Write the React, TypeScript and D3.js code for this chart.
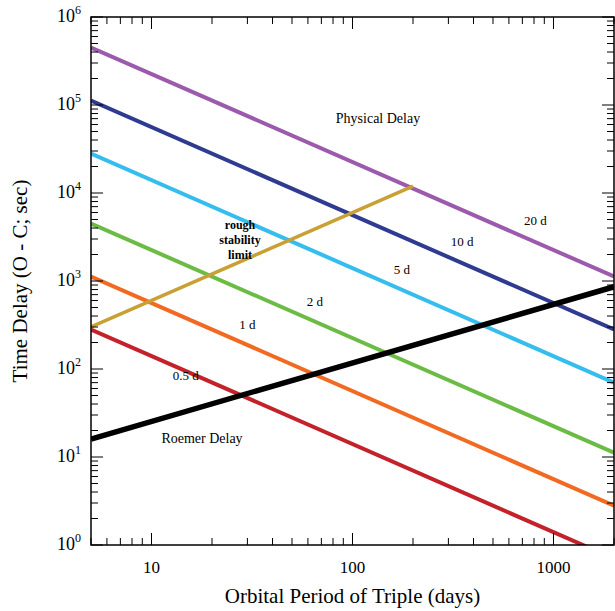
import * as d3 from 'd3';

// inner period (days) and the delay curves: [P, delay] endpoints
const innerLabels = ['20 d', '10 d', '5 d', '2 d', '1 d', '0.5 d'];
const innerColors = ['#9b5aac', '#2e3b91', '#35bdee', '#6cbb45', '#f26a22', '#c4222b'];
const startDelay = [450000, 112000, 28000, 4500, 1125, 281];
const endDelay = [1125, 281, 70, 11.2, 2.8, 0.7];
const roemer = [[5, 16], [2000, 860]];
const stability = [[5, 300], [200, 12000]];
const innerLabelPos = [[813, 4700], [351, 2700], [176, 1300], [65, 560], [30, 310], [14.8, 81]];
const xTicks = [10, 100, 1000];
const yTicks = [0, 1, 2, 3, 4, 5, 6];

const W = 615, H = 611;
const m = { l: 91, r: 614, t: 17, b: 545 };

export default function App() {
  const x = d3.scaleLog().domain([5, 2000]).range([m.l, m.r]);
  const y = d3.scaleLog().domain([1, 1e6]).range([m.b, m.t]);
  const line = d3.line<number[]>().x(d => x(d[0])).y(d => y(d[1]));
  const font = '"Liberation Serif", "Times New Roman", serif';

  const xMinor: number[] = [];
  for (let e = 0; e <= 3; e++) for (let k = 1; k <= 9; k++) {
    const v = k * 10 ** e;
    if (v >= 5 && v <= 2000) xMinor.push(v);
  }
  const yMinor: number[] = [];
  for (let e = 0; e < 6; e++) for (let k = 2; k <= 9; k++) yMinor.push(k * 10 ** e);

  return (
    <svg width={W} height={H} style={{ position: 'absolute', left: 0, top: 0 }} fontFamily={font}>
      <defs>
        <clipPath id="plot"><rect x={m.l} y={m.t} width={m.r - m.l} height={m.b - m.t} /></clipPath>
      </defs>
      <g clipPath="url(#plot)">
        {innerLabels.map((l, i) => (
          <path key={l} d={line([[5, startDelay[i]], [2000, endDelay[i]]]) || ''} stroke={innerColors[i]} strokeWidth={4} fill="none" />
        ))}
        <path d={line(stability) || ''} stroke="#c9a034" strokeWidth={3.5} fill="none" />
        <path d={line(roemer) || ''} stroke="#000" strokeWidth={5.5} fill="none" />
      </g>
      <rect x={m.l} y={m.t} width={m.r - m.l} height={m.b - m.t} fill="none" stroke="#000" strokeWidth={1.5} />
      {xMinor.map(v => {
        const major = xTicks.includes(v);
        const len = major ? 12 : 7;
        return (
          <g key={'x' + v} stroke="#000" strokeWidth={1}>
            <line x1={x(v)} x2={x(v)} y1={m.b} y2={m.b - len} />
            <line x1={x(v)} x2={x(v)} y1={m.t} y2={m.t + len} />
          </g>
        );
      })}
      {yTicks.map(e => (
        <g key={'y' + e} stroke="#000">
          <line x1={m.l} x2={m.l + 12} y1={y(10 ** e)} y2={y(10 ** e)} />
          <line x1={m.r} x2={m.r - 12} y1={y(10 ** e)} y2={y(10 ** e)} />
        </g>
      ))}
      {yMinor.map(v => (
        <g key={'ym' + v} stroke="#000">
          <line x1={m.l} x2={m.l + 7} y1={y(v)} y2={y(v)} />
          <line x1={m.r} x2={m.r - 7} y1={y(v)} y2={y(v)} />
        </g>
      ))}
      {xTicks.map(v => (
        <text key={'xl' + v} x={x(v)} y={m.b + 28} textAnchor="middle" fontSize={17}>{v}</text>
      ))}
      {yTicks.map(e => (
        <text key={'yl' + e} x={m.l - 10} y={y(10 ** e) + 5} textAnchor="end" fontSize={18}>
          10<tspan dy={-8} fontSize={12}>{e}</tspan>
        </text>
      ))}
      <text x={(m.l + m.r) / 2} y={603} textAnchor="middle" fontSize={21}>Orbital Period of Triple (days)</text>
      <text transform={`translate(27,${(m.t + m.b) / 2}) rotate(-90)`} textAnchor="middle" fontSize={21}>Time Delay (O - C; sec)</text>
      {innerLabels.map((l, i) => (
        <text key={'il' + l} x={x(innerLabelPos[i][0])} y={y(innerLabelPos[i][1])} textAnchor="middle" dominantBaseline="middle" fontSize={13}>{l}</text>
      ))}
      <text x={378} y={123} textAnchor="middle" fontSize={14}>Physical Delay</text>
      <text x={202} y={443} textAnchor="middle" fontSize={14}>Roemer Delay</text>
      <g fontWeight="bold" fontSize={12} textAnchor="middle">
        <text x={240} y={229}>rough</text>
        <text x={240} y={244}>stability</text>
        <text x={240} y={259}>limit</text>
      </g>
    </svg>
  );
}
